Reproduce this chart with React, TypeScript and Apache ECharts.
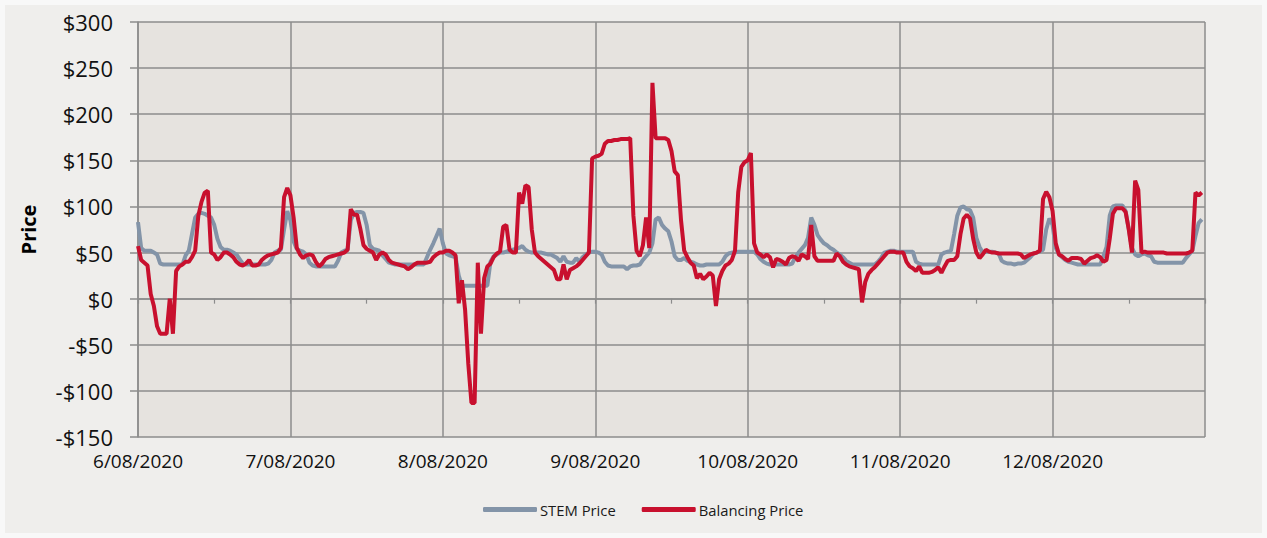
import React, { useEffect, useRef } from "react";
import * as echarts from "echarts";

const dateLabels = ["6/08/2020", "7/08/2020", "8/08/2020", "9/08/2020", "10/08/2020", "11/08/2020", "12/08/2020"];
const seriesNames = ["STEM Price", "Balancing Price"];

// half-hourly prices, 48 per day
const stem6 = [83, 55, 52, 52, 52, 50, 48, 38, 37, 37, 37, 37, 37, 37, 37, 47, 52, 70, 88, 92, 93, 92, 90, 88, 80, 65, 56, 53, 53, 52, 50, 48, 43, 38, 37, 37, 37, 37, 37, 37, 37, 38, 42, 50, 52, 53, 75, 95];
const stem7 = [85, 62, 54, 52, 51, 48, 39, 36, 35, 35, 35, 35, 35, 35, 35, 41, 50, 52, 53, 85, 93, 94, 94, 93, 80, 58, 54, 53, 52, 47, 43, 39, 38, 37, 37, 37, 37, 37, 37, 37, 37, 37, 37, 45, 53, 60, 68, 76];
const stem8 = [60, 49, 47, 46, 45, 25, 14, 14, 14, 14, 14, 14, 14, 14, 14, 40, 46, 48, 50, 50, 51, 52, 53, 54, 55, 57, 53, 51, 50, 50, 50, 50, 49, 48, 48, 46, 44, 40, 46, 40, 39, 39, 44, 40, 45, 48, 50, 51];
const stem9 = [51, 50, 48, 40, 36, 35, 35, 35, 35, 35, 32, 35, 36, 36, 37, 42, 46, 50, 60, 86, 88, 80, 76, 73, 62, 46, 42, 42, 44, 41, 40, 39, 37, 36, 36, 37, 37, 37, 37, 37, 40, 46, 49, 50, 50, 51, 51, 51];
const stem10 = [51, 51, 51, 48, 43, 40, 38, 37, 37, 37, 37, 37, 37, 37, 38, 45, 50, 54, 58, 66, 88, 80, 69, 64, 60, 58, 55, 53, 50, 48, 45, 41, 39, 37, 37, 37, 37, 37, 37, 37, 37, 40, 44, 50, 51, 52, 52, 51];
const stem11 = [51, 51, 51, 51, 51, 40, 38, 37, 37, 37, 37, 37, 37, 48, 50, 51, 52, 70, 90, 99, 100, 97, 96, 88, 66, 56, 50, 51, 51, 51, 50, 49, 41, 39, 38, 38, 37, 38, 38, 39, 42, 45, 49, 50, 51, 53, 75, 87];
const stem12 = [80, 55, 48, 45, 42, 40, 39, 38, 37, 37, 37, 37, 37, 37, 37, 37, 46, 56, 90, 100, 101, 101, 101, 95, 75, 55, 48, 46, 48, 49, 47, 46, 40, 39, 39, 39, 39, 39, 39, 39, 39, 39, 44, 48, 52, 68, 82, 86];

const bal6 = [57, 42, 39, 36, 5, -8, -30, -38, -38, -38, 0, -38, 30, 35, 37, 40, 40, 45, 52, 90, 105, 115, 117, 50, 48, 42, 45, 50, 50, 48, 45, 40, 37, 36, 38, 42, 36, 36, 37, 42, 45, 47, 48, 49, 50, 55, 110, 120];
const bal7 = [112, 88, 55, 48, 44, 47, 48, 47, 40, 35, 38, 43, 45, 46, 47, 48, 49, 50, 53, 97, 91, 91, 76, 58, 54, 52, 50, 42, 48, 50, 48, 42, 39, 38, 37, 36, 35, 32, 34, 37, 39, 39, 39, 39, 40, 45, 48, 50];
const bal8 = [50, 52, 52, 50, 47, -5, 20, -12, -70, -113, -113, 39, -38, 22, 35, 38, 45, 49, 51, 78, 80, 53, 50, 50, 115, 103, 123, 121, 75, 50, 46, 43, 40, 37, 34, 31, 21, 21, 37, 21, 31, 33, 35, 38, 42, 46, 50, 152];
const bal9 = [154, 155, 157, 168, 171, 171, 172, 172, 173, 173, 173, 174, 90, 52, 46, 58, 88, 55, 234, 174, 174, 174, 174, 172, 160, 138, 134, 85, 52, 45, 39, 36, 22, 27, 21, 24, 28, 25, -8, 21, 30, 36, 38, 42, 52, 115, 143, 148];
const bal10 = [150, 158, 60, 50, 48, 45, 48, 45, 34, 43, 42, 40, 37, 44, 46, 45, 41, 48, 46, 43, 80, 46, 41, 41, 41, 41, 41, 41, 49, 46, 40, 37, 35, 34, 33, 32, -4, 18, 27, 31, 34, 38, 42, 46, 50, 51, 51, 50];
const bal11 = [50, 50, 40, 35, 33, 30, 35, 28, 28, 28, 29, 31, 34, 28, 35, 41, 42, 42, 46, 70, 87, 91, 87, 65, 50, 44, 48, 53, 51, 50, 50, 49, 49, 49, 49, 49, 49, 49, 48, 44, 46, 48, 49, 50, 52, 108, 116, 110];
const bal12 = [95, 60, 48, 46, 43, 41, 44, 44, 44, 43, 38, 41, 44, 45, 47, 45, 40, 42, 65, 92, 98, 98, 98, 94, 75, 50, 128, 118, 50, 51, 50, 50, 50, 50, 50, 50, 49, 49, 49, 49, 49, 49, 49, 50, 52, 115, 112, 115];

const stemDays = [stem6, stem7, stem8, stem9, stem10, stem11, stem12];
const balDays = [bal6, bal7, bal8, bal9, bal10, bal11, bal12];

const SLOTS = 48;

function toPoints(days: number[][]) {
  const out: number[][] = [];
  days.forEach((d, di) => d.forEach((v, k) => out.push([di * SLOTS + k, v])));
  return out;
}

const GRID_COLOR = "#8c8c8c";
const FONT = "Open Sans";

export default function App() {
  const ref = useRef<HTMLDivElement>(null);
  useEffect(() => {
    document.body.style.margin = "0";
    if (!ref.current) return;
    const chart = echarts.init(ref.current, undefined, { renderer: "svg" });
    const xMax = SLOTS * dateLabels.length;
    chart.setOption({
      animation: false,
      backgroundColor: "#efeeec",
      grid: {
        left: 133,
        top: 17,
        width: 1067,
        height: 415,
        show: true,
        backgroundColor: "#e6e3df",
        borderWidth: 0,
      },
      legend: {
        left: 478,
        top: 497,
        icon: "roundRect",
        itemWidth: 54,
        itemHeight: 5,
        itemGap: 26,
        padding: 0,
        textStyle: { fontFamily: FONT, fontSize: 14.8, color: "#1a1a1a", padding: [0, 0, 0, -2] },
        data: seriesNames,
      },
      xAxis: [
        {
          type: "value",
          min: 0,
          max: xMax,
          interval: SLOTS,
          position: "bottom",
          axisLine: { show: false, onZero: false },
          axisTick: { show: false },
          axisLabel: {
            margin: 14,
            fontFamily: FONT,
            fontSize: 19,
            color: "#111",
            showMaxLabel: false,
            formatter: (v: number) => (v < xMax ? dateLabels[Math.round(v / SLOTS)] : ""),
          },
          splitLine: { show: true, lineStyle: { color: GRID_COLOR, width: 1.5 } },
        },
        {
          type: "value",
          min: 0,
          max: xMax,
          interval: SLOTS / 2,
          position: "top",
          axisLine: { show: true, onZero: true, lineStyle: { color: GRID_COLOR, width: 1.5 } },
          axisTick: { show: true, inside: true, length: 5, lineStyle: { color: GRID_COLOR, width: 1.2 } },
          axisLabel: { show: false },
          splitLine: { show: false },
        },
      ],
      yAxis: {
        type: "value",
        min: -150,
        max: 300,
        interval: 50,
        name: "Price",
        nameLocation: "middle",
        nameGap: 100,
        nameTextStyle: { fontFamily: FONT, fontSize: 20, fontWeight: "bold", color: "#000" },
        axisLine: { show: true, lineStyle: { color: GRID_COLOR, width: 1.5 } },
        axisTick: { show: true, length: 8, lineStyle: { color: GRID_COLOR, width: 1.5 } },
        axisLabel: {
          margin: 25,
          fontFamily: FONT,
          fontSize: 22,
          color: "#111",
          formatter: (v: number) => (v < 0 ? `-$${-v}` : `$${v}`),
        },
        splitLine: { show: true, lineStyle: { color: GRID_COLOR, width: 1.5 } },
      },
      series: [
        {
          name: seriesNames[0],
          type: "line",
          xAxisIndex: 0,
          data: toPoints(stemDays),
          showSymbol: false,
          color: "#8394a8",
          lineStyle: { width: 4, color: "#8394a8" },
        },
        {
          name: seriesNames[1],
          type: "line",
          xAxisIndex: 0,
          data: toPoints(balDays),
          showSymbol: false,
          color: "#c8102e",
          lineStyle: { width: 4, color: "#c8102e" },
        },
      ],
    });
    return () => chart.dispose();
  }, []);
  return (
    <div style={{ width: 1267, height: 538, background: "#f8f8f8", padding: 5, boxSizing: "border-box" }}>
      <div ref={ref} style={{ width: 1257, height: 528 }} />
    </div>
  );
}
